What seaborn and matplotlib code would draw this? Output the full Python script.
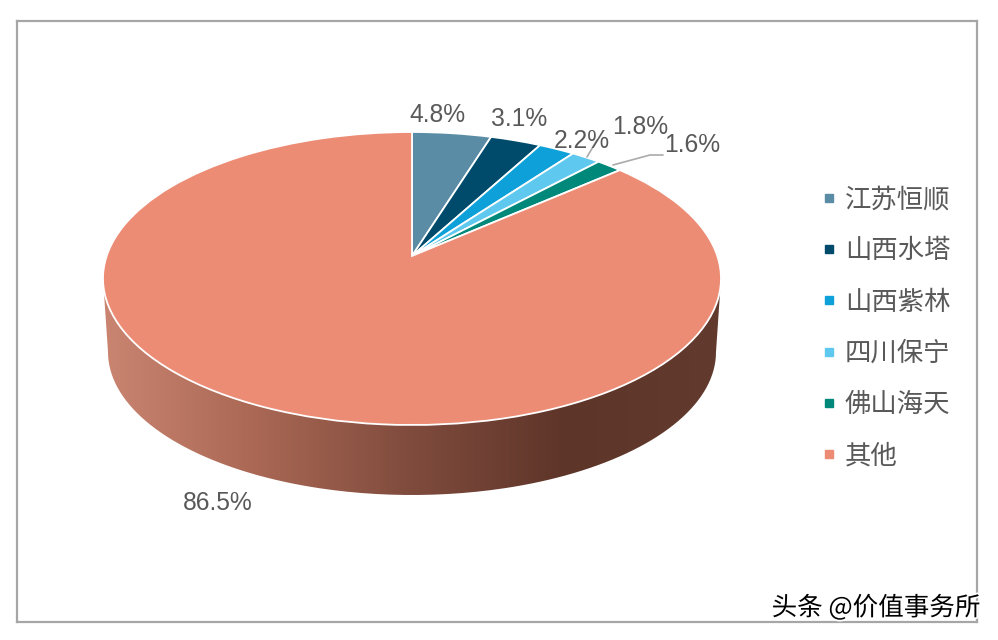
import numpy as np
import matplotlib
matplotlib.use("Agg")
import matplotlib.pyplot as plt
import matplotlib.patheffects as pe
from matplotlib.lines import Line2D
from matplotlib.patches import PathPatch
from matplotlib.path import Path
from matplotlib.transforms import Transform
import seaborn as sns

names = ["江苏恒顺", "山西水塔", "山西紫林", "四川保宁", "佛山海天", "其他"]
shares = [4.8, 3.1, 2.2, 1.8, 1.6, 86.5]
colors = ["#5a8da5", "#004b6b", "#0ea0d8", "#5fc8ee", "#00897b", "#ec8c75"]
share_labels = ["4.8%", "3.1%", "2.2%", "1.8%", "1.6%", "86.5%"]
label_pos = [(437.5, 115.5), (519, 119.5), (582, 140.5), (640, 127), (692, 145.5), (218, 503)]
side_colors = ["#ca8571", "#a96754", "#7f4b3d", "#5e3529", "#623a2e"]

# pie ellipse in image pixels, tilt pushes the apex up like the 3d original
CX, CY, RX, RY = 412, 278.5, 309, 146.5
TILT = 0.154
BOTTOM_CY, BOTTOM_RX, BOTTOM_RY = 352, 304, 143

sns.set_theme(style="white")
plt.rcParams["font.family"] = ["Noto Sans CJK SC", "DejaVu Sans"]


class TiltTransform(Transform):
    input_dims = 2
    output_dims = 2
    is_separable = False
    has_inverse = False

    def transform_non_affine(self, values):
        u, v = np.asarray(values, dtype=float).T
        w = 1 + TILT * v
        x = CX + RX * u * np.sqrt(1 - TILT ** 2) / w
        y = CY - RY * (v + TILT) / w
        return np.column_stack([x, y])


fig = plt.figure(figsize=(9.98, 6.4), dpi=100)
ax = fig.add_axes([17 / 998, 1 - 622 / 640, 960 / 998, 601 / 640])

wedges, _ = ax.pie(shares, colors=colors, startangle=90, counterclock=False,
                   wedgeprops={"edgecolor": "white", "linewidth": 1.3})
for w in wedges:
    w.set_transform(TiltTransform() + ax.transData)
    w.set_zorder(3)

# side wall of the pie
t = np.linspace(np.pi, 0, 200)
side_x = np.r_[CX - RX, BOTTOM_RX * np.cos(t) + CX, CX + RX]
side_y = np.r_[CY, BOTTOM_RY * np.sin(t) + BOTTOM_CY, CY]
side_path = Path(np.column_stack([side_x, side_y]))
clip = PathPatch(side_path, facecolor="none", edgecolor="none", transform=ax.transData)
ax.add_patch(clip)
side_cmap = sns.blend_palette(side_colors, as_cmap=True)
im = ax.imshow(np.linspace(0, 1, 256)[None, :], cmap=side_cmap, aspect="auto",
               extent=(CX - RX, CX + RX, BOTTOM_CY + BOTTOM_RY, CY), zorder=2)
im.set_clip_path(clip)

ax.set_xlim(17, 977)
ax.set_ylim(622, 21)
ax.set_aspect("auto")
ax.set_xticks([])
ax.set_yticks([])
ax.set_frame_on(True)
for s in ax.spines.values():
    s.set_visible(True)
    s.set_color("#a6a6a6")
    s.set_linewidth(1.6)

# leader lines for the two narrow slices
ax.plot([597, 587], [140, 157], color="#aaaaaa", lw=1.2, zorder=4)
ax.plot([613, 650, 663], [165, 155, 155], color="#aaaaaa", lw=1.2, zorder=4)

for lab, (x, y) in zip(share_labels, label_pos):
    ax.text(x, y, lab, ha="center", va="center", fontsize=17.7,
            family="Liberation Sans", color="#595959", zorder=5)

handles = [Line2D([], [], marker="s", ls="none", color=c, markersize=6.2) for c in colors]
ax.legend(handles, names, loc="upper left", bbox_to_anchor=(816, 186),
          bbox_transform=ax.transData, frameon=False, fontsize=19,
          labelcolor="#595959", labelspacing=0.92, handlelength=1.0,
          handletextpad=0.1, borderpad=0, borderaxespad=0)

ax.text(980, 608, "头条 @价值事务所", ha="right", va="center", fontsize=18.4,
        color="black", family=["Noto Sans CJK SC", "DejaVu Sans"], zorder=6,
        path_effects=[pe.withStroke(linewidth=2.5, foreground="white")])

fig.savefig("out.png", dpi=100, facecolor="white")
